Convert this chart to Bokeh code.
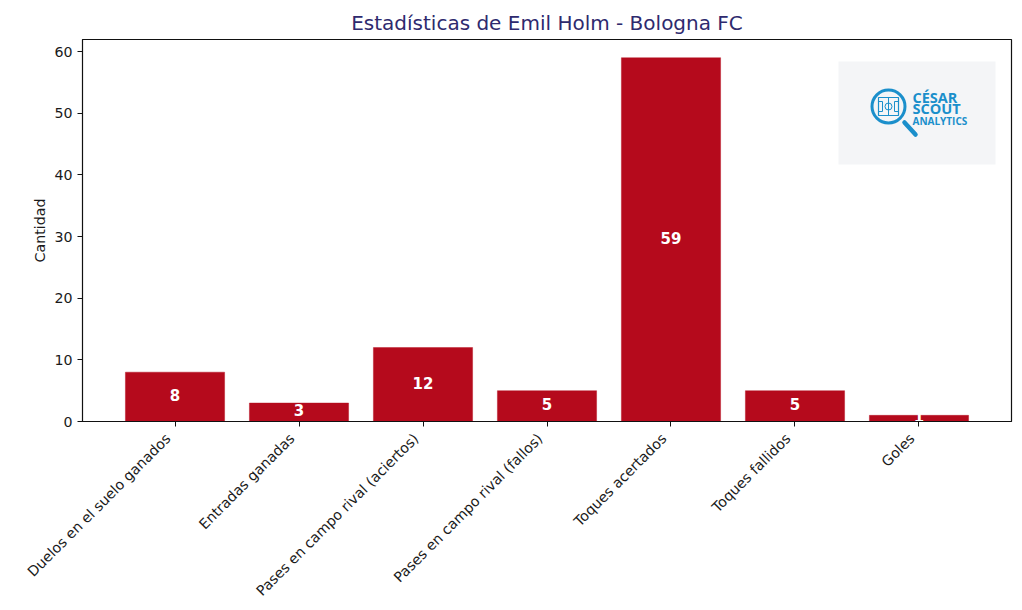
import math
from bokeh.plotting import figure
from bokeh.core.properties import value
from bokeh.models import ColumnDataSource, FactorRange, Range1d, FixedTicker
from bokeh.embed import file_html
from bokeh.resources import INLINE

categories = ["Duelos en el suelo ganados", "Entradas ganadas", "Pases en campo rival (aciertos)",
              "Pases en campo rival (fallos)", "Toques acertados", "Toques fallidos", "Goles"]
values = [8, 3, 12, 5, 59, 5, 1]
y_ticks = [0, 10, 20, 30, 40, 50, 60]
title_text = "Estadísticas de Emil Holm - Bologna FC"
y_label = "Cantidad"
logo_lines = ["CÉSAR", "SCOUT", "ANALYTICS"]

FONT = "DejaVu Sans"
BAR = "#B50A1C"
BLUE = "#1B8FCB"
PAD = 0.0703

p = figure(width=1014, height=605, output_backend="svg", toolbar_location=None,
           x_range=FactorRange(factors=categories, range_padding=PAD),
           y_range=Range1d(0, 61.95),
           min_border_left=82, min_border_right=3, min_border_top=39, min_border_bottom=184)

p.title.text = title_text
p.title.align = "center"
p.title.text_color = "#2E2A6E"
p.title.text_font = FONT
p.title.text_font_size = "20px"
p.title.text_font_style = "normal"
p.title.standoff = 10

p.grid.visible = False
p.outline_line_color = "#111111"
p.outline_line_width = 1.2

src = ColumnDataSource(dict(cat=categories, val=values, mid=[v / 2 for v in values],
                            txt=[str(v) for v in values], base=[0] * len(values)))
p.vbar(x="cat", top="val", bottom=0, width=0.8, source=src, fill_color=BAR, line_color=BAR, line_alpha=0.4)
p.text(x="cat", y="mid", text="txt", source=src, y_offset=-2, text_color="white", text_font=value(FONT),
       text_font_size="15px", text_font_style="bold", text_align="center", text_baseline="middle")

xa, ya = p.xaxis[0], p.yaxis[0]
for a in (xa, ya):
    a.major_label_text_font = FONT
    a.major_label_text_font_size = "14.2px"
    a.major_label_text_color = "#1a1a1a"
    a.axis_line_color = "#111111"
    a.major_tick_line_color = "#111111"
    a.major_tick_in = 0
    a.major_tick_out = 5
    a.minor_tick_line_color = None
xa.major_label_orientation = math.pi / 4
xa.major_label_standoff = 7
xa.major_label_text_color = None
ya.ticker = FixedTicker(ticks=y_ticks)
ya.axis_label = y_label
ya.axis_label_text_font = FONT
ya.axis_label_text_font_size = "14.2px"
ya.axis_label_text_font_style = "normal"
ya.axis_label_text_color = "#1a1a1a"
ya.axis_label_standoff = 3

# Category labels: rotated text anchored on the category scale, matching the reference's offset from the ticks
p.text(x="cat", y="base", text="cat", source=src, angle=math.pi / 4, text_align="right", text_baseline="middle",
       x_offset=-7, y_offset=14.5, text_color="#1a1a1a", text_font=value(FONT), text_font_size="14.2px",
       level="annotation")

# Logo placed in frame pixels: y through an extra range, x converted to category-axis units
p.extra_y_ranges = {"logo": Range1d(382, 0)}
span = len(categories) * (1 + PAD)
def lx(px):
    return px / 929 * span - len(categories) * PAD / 2
kw = dict(y_range_name="logo")
p.quad(left=[lx(756)], right=[lx(913)], top=[22], bottom=[125], fill_color="#F4F5F7", line_color=None, **kw)
p.scatter(x=[lx(806)], y=[67], size=33, marker="circle", fill_color=None, line_color=BLUE, line_width=3, **kw)
p.segment(x0=[lx(822)], y0=[83], x1=[lx(833)], y1=[95], line_color=BLUE, line_width=4.5, line_cap="round", **kw)
p.quad(left=[lx(796)], right=[lx(816)], top=[58], bottom=[76], fill_color=None, line_color=BLUE, line_width=1.2, **kw)
p.quad(left=[lx(796), lx(812)], right=[lx(800), lx(816)], top=[62, 62], bottom=[72, 72],
       fill_color=None, line_color=BLUE, line_width=1, **kw)
p.segment(x0=[lx(806)], y0=[58], x1=[lx(806)], y1=[76], line_color=BLUE, line_width=1, **kw)
p.scatter(x=[lx(806)], y=[67], size=7, marker="circle", fill_color=None, line_color=BLUE, line_width=1, **kw)
text_kw = dict(text_color=BLUE, text_font=value("Open Sans"), text_font_style="bold", text_baseline="bottom", **kw)
p.text(x=[lx(830), lx(830)], y=[67, 78], text=logo_lines[:2], text_font_size="14.5px", **text_kw)
p.text(x=[lx(830)], y=[88], text=logo_lines[2:], text_font_size="10px", **text_kw)

open("out.html", "w").write(file_html(p, INLINE))
